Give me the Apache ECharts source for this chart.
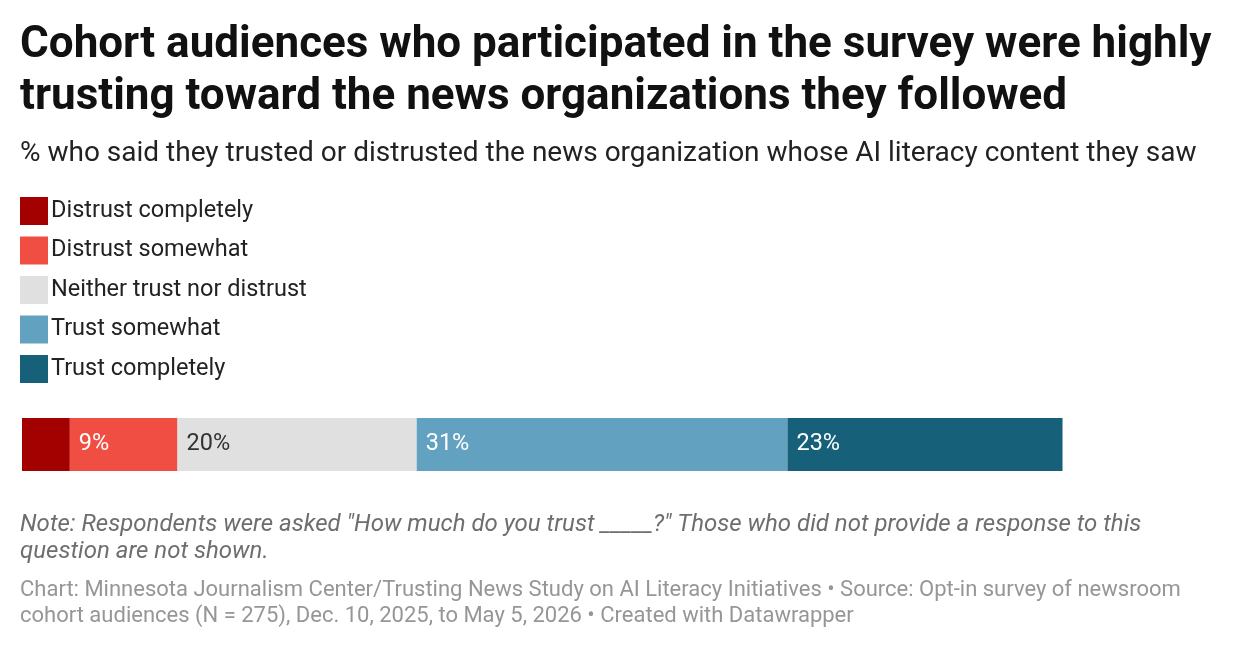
<!DOCTYPE html>
<html><head><meta charset="utf-8">
<script src="https://cdn.jsdelivr.net/npm/echarts@6/dist/echarts.min.js"></script>
<style>html,body{margin:0;background:#fff}#c{width:1240px;height:650px}</style>
</head><body><div id="c"></div>
<script>
const categories = ["All"];
const seriesNames = ["Distrust completely","Distrust somewhat","Neither trust nor distrust","Trust somewhat","Trust completely"];
const values = [4, 9, 20, 31, 23];
const labels = ["", "9%", "20%", "31%", "23%"];
const colors = ["#a30000","#f04e42","#e0e0e0","#62a1c0","#16607a"];
const labelColors = ["#fff","#fff","#333","#fff","#fff"];
const F = "Roboto, 'Noto Sans', sans-serif";
const chart = echarts.init(document.getElementById('c'));
chart.setOption({
  animation:false,
  textStyle:{fontFamily:F},
  grid:{left:22,right:22,top:418,height:53},
  xAxis:{type:'value',min:0,max:100,show:false},
  yAxis:{type:'category',data:categories,show:false},
  legend:{orient:'vertical',left:15,top:192,itemWidth:28,itemHeight:28,itemGap:11.5,icon:'rect',
    textStyle:{fontSize:23.5,color:'#222',fontFamily:F,padding:[0,0,0,-2]},data:seriesNames},
  series: seriesNames.map((n,i)=>({name:n,type:'bar',stack:'s',barWidth:53,
    itemStyle:{color:colors[i]},data:[values[i]],
    label:{show:labels[i]!=="",position:'insideLeft',offset:[4,0],formatter:()=>labels[i],fontSize:23.5,color:labelColors[i],fontFamily:F}})),
  graphic:[
    {type:'text',left:20,top:20,style:{text:"Cohort audiences who participated in the survey were highly\ntrusting toward the news organizations they followed",font:"bold 44px "+F,fill:'#111',lineHeight:52}},
    {type:'text',left:20,top:140,style:{text:"% who said they trusted or distrusted the news organization whose AI literacy content they saw",font:"28px "+F,fill:'#222'}},
    {type:'text',left:20,top:511,style:{text:"Note: Respondents were asked \"How much do you trust _____?\" Those who did not provide a response to this\nquestion are not shown.",font:"italic 24px "+F,fill:'#6e6e6e',lineHeight:27}},
    {type:'text',left:20,top:577,style:{text:"Chart: Minnesota Journalism Center/Trusting News Study on AI Literacy Initiatives • Source: Opt-in survey of newsroom\ncohort audiences (N = 275), Dec. 10, 2025, to May 5, 2026 • Created with Datawrapper",font:"22px "+F,fill:'#969696',lineHeight:26}}
  ]
});
</script></body></html>
